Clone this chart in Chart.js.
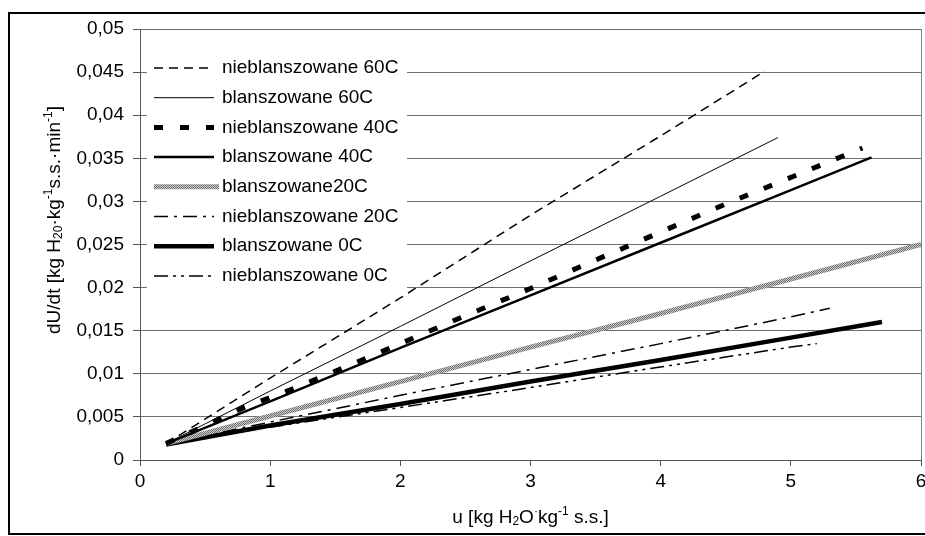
<!DOCTYPE html>
<html>
<head>
<meta charset="utf-8">
<script src="https://cdn.jsdelivr.net/npm/chart.js@4/dist/chart.umd.min.js"></script>
<style>
  html, body { margin: 0; padding: 0; background: #fff; }
</style>
</head>
<body>
<canvas id="myChart" width="925" height="536"></canvas>
<script>
var FONT = "'Liberation Sans', Arial, sans-serif";

var seriesNames = [
  "nieblanszowane 60C",
  "blanszowane 60C",
  "nieblanszowane 40C",
  "blanszowane 40C",
  "blanszowane20C",
  "nieblanszowane 20C",
  "blanszowane 0C",
  "nieblanszowane 0C",
];

// u values (x) and dU/dt values (y)
var uN60 = [0.2, 1, 2, 3, 4, 4.8];
var yN60 = [0.0019, 0.0095, 0.0188, 0.0284, 0.0376, 0.0451];

var uB60 = [0.2, 1, 2, 3, 4, 4.9];
var yB60 = [0.0019, 0.008, 0.0155, 0.0231, 0.0306, 0.0374];

var uN40 = [0.2, 0.8, 1.2, 1.8, 2.4, 3, 3.5, 4.1, 4.5, 5.1, 5.55];
var yN40 = [0.0019, 0.0061, 0.0084, 0.0122, 0.0161, 0.0199, 0.0232, 0.0271, 0.0297, 0.0334, 0.0362];

var uB40 = [0.2, 1, 2, 3, 4, 5, 5.62];
var yB40 = [0.0019, 0.0068, 0.013, 0.0191, 0.0252, 0.0313, 0.0351];

var uB20 = [0.2, 1, 2, 3, 4, 5, 6];
var yB20 = [0.0019, 0.0051, 0.0091, 0.0131, 0.017, 0.021, 0.025];

var uN20 = [0.2, 1, 2, 3, 4, 5, 5.3];
var yN20 = [0.0019, 0.0044, 0.0075, 0.0105, 0.0135, 0.0166, 0.0176];

var uB0 = [0.2, 1, 2, 3, 4, 5, 5.7];
var yB0 = [0.0018, 0.004, 0.0065, 0.0091, 0.0116, 0.0142, 0.016];

var uN0 = [0.2, 1, 2, 3, 4, 5, 5.2];
var yN0 = [0.0019, 0.0038, 0.0061, 0.0084, 0.0108, 0.0131, 0.0135];

var xTicks = [0, 1, 2, 3, 4, 5, 6];

function pts(u, y) {
  return u.map(function (v, i) { return { x: v, y: y[i] }; });
}

// grey textured pen for blanszowane20C
function greyPattern() {
  var c = document.createElement("canvas");
  c.width = 2; c.height = 2;
  var g = c.getContext("2d");
  g.fillStyle = "#d0d0d0";
  g.fillRect(0, 0, 2, 2);
  g.fillStyle = "#6a6a6a";
  g.fillRect(0, 0, 1, 1);
  g.fillRect(1, 1, 1, 1);
  return g.createPattern(c, "repeat");
}

var allU = [uN60, uB60, uN40, uB40, uB20, uN20, uB0, uN0];
var allY = [yN60, yB60, yN40, yB40, yB20, yN20, yB0, yN0];
var widths = [1.5, 1, 5, 2.5, 5, 1.5, 4.5, 1.5];
var dashes = [[9, 6], [], [9, 17], [], [], [14, 6, 3, 6], [], [14, 5, 3, 5, 3, 5]];
var colors = ["#000", "#000", "#000", "#000", greyPattern(), "#000", "#000", "#000"];

var datasets = seriesNames.map(function (name, i) {
  return {
    label: name,
    data: pts(allU[i], allY[i]),
    borderColor: colors[i],
    borderWidth: widths[i],
    borderDash: dashes[i],
    fill: false,
    pointRadius: 0,
  };
});

function drawRich(c, runs, x, y, size) {
  var small = Math.round(size * 0.65);
  var total = 0;
  runs.forEach(function (r) {
    c.font = (r[1] ? small : size) + "px " + FONT;
    r.w = c.measureText(r[0]).width;
    total += r.w;
  });
  var cx = x - total / 2;
  c.textAlign = "left";
  c.textBaseline = "middle";
  runs.forEach(function (r) {
    c.font = (r[1] ? small : size) + "px " + FONT;
    var dy = r[1] === 1 ? -size * 0.33 : r[1] === -1 ? size * 0.22 : 0;
    c.fillText(r[0], cx, y + dy);
    cx += r.w;
  });
}

var framePlugin = {
  id: "frame",
  beforeDatasetsDraw: function (chart) {
    var c = chart.ctx, a = chart.chartArea;
    c.save();
    // right edge of plot area
    c.strokeStyle = "#808080";
    c.lineWidth = 1;
    c.beginPath();
    c.moveTo(a.right + 0.5, a.top);
    c.lineTo(a.right + 0.5, a.bottom);
    c.stroke();

    // legend inside plot
    c.fillStyle = "#fff";
    c.fillRect(147, 53, 260, 239);
    chart.data.datasets.forEach(function (ds, i) {
      var y = 68 + i * 29.7;
      c.save();
      c.strokeStyle = ds.borderColor;
      c.lineWidth = ds.borderWidth;
      c.setLineDash(ds.borderDash || []);
      c.lineCap = "butt";
      c.beginPath();
      c.moveTo(154, y);
      c.lineTo(i === 4 ? 219 : 214, y);
      c.stroke();
      c.restore();
      c.fillStyle = "#000";
      c.font = "19px " + FONT;
      c.textAlign = "left";
      c.textBaseline = "middle";
      c.fillText(ds.label, 222, y);
    });
    c.restore();
  },
  afterDraw: function (chart) {
    var c = chart.ctx, a = chart.chartArea;
    c.save();
    c.fillStyle = "#000";
    drawRich(c, [["u [kg H", 0], ["2", -1], ["O", 0], ["·", 1], ["kg", 0], ["-1", 1], [" s.s.]", 0]],
      (a.left + a.right) / 2, 518, 19);
    c.translate(55, 220);
    c.rotate(-Math.PI / 2);
    drawRich(c, [["dU/dt [kg H", 0], ["20", -1], ["·", 0], ["kg", 0], ["-1", 1], ["s.s.·min", 0], ["-1", 1], ["]", 0]],
      0, 0, 19);
    c.restore();
    // outer frame
    c.save();
    c.strokeStyle = "#000";
    c.lineWidth = 2;
    c.strokeRect(9, 13, 940, 521);
    c.restore();
  },
};

var ctx = document.getElementById("myChart").getContext("2d");
var myChart = new Chart(ctx, {
  type: "line",
  data: { datasets: datasets },
  options: {
    responsive: false,
    animation: false,
    devicePixelRatio: 1,
    layout: { padding: { left: 0, top: 29, right: 4, bottom: 0 } },
    plugins: { legend: { display: false }, tooltip: { enabled: false } },
    elements: { line: { tension: 0, borderCapStyle: "butt" } },
    scales: {
      x: {
        type: "linear",
        min: 0,
        max: 6,
        afterBuildTicks: function (s) { s.ticks = xTicks.map(function (v) { return { value: v }; }); },
        ticks: { color: "#000", padding: 4, maxRotation: 0, font: { family: FONT, size: 19 } },
        grid: { drawOnChartArea: false, tickLength: 6, tickColor: "#555" },
        border: { color: "#555" },
        afterFit: function (s) { s.height = 76; s.paddingLeft = 0; s.paddingRight = 0; },
      },
      y: {
        min: 0,
        max: 0.05,
        ticks: {
          stepSize: 0.005,
          color: "#000",
          padding: 9,
          font: { family: FONT, size: 19 },
          callback: function (v) {
            return String(Math.round(v * 1000) / 1000).replace(".", ",");
          },
        },
        grid: { color: "#6e6e6e", tickLength: 7, tickColor: "#555" },
        border: { color: "#555" },
        afterFit: function (s) { s.width = 140; s.paddingTop = 0; s.paddingBottom = 0; },
      },
    },
  },
  plugins: [framePlugin],
});
</script>
</body>
</html>
